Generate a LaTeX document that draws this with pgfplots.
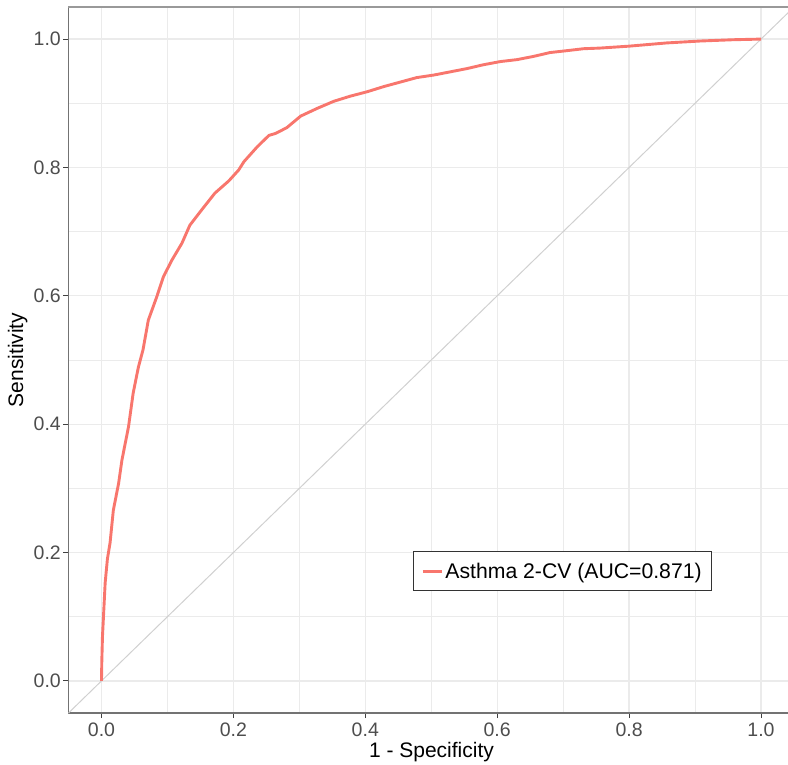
\documentclass[border=0pt]{standalone}
\usepackage{fontspec}
\setmainfont{Liberation Sans}
\usepackage{pgfplots}
\pgfplotsset{compat=1.18}
\definecolor{roc}{HTML}{F8766D}
\definecolor{gridc}{HTML}{EBEBEB}
\definecolor{diagc}{HTML}{D0D0D0}
\definecolor{ticktext}{HTML}{4D4D4D}
\definecolor{axline}{HTML}{737373}
\definecolor{topline}{HTML}{999999}
\begin{document}
\begin{tikzpicture}[x=1pt,y=1pt]
\useasboundingbox (0,0) rectangle (788,764);
\begin{axis}[
  at={(68.5pt,51pt)}, anchor=south west,
  scale only axis, width=719.5pt, height=706pt,
  xmin=-0.05, xmax=1.0409, ymin=-0.05, ymax=1.05,
  axis lines*=left,
  x axis line style={-}, y axis line style={-},
  axis line style={draw=axline, line width=1.3pt},
  xtick={0,0.2,0.4,0.6,0.8,1},
  ytick={0,0.2,0.4,0.6,0.8,1},
  xticklabels={0.0,0.2,0.4,0.6,0.8,1.0},
  yticklabels={0.0,0.2,0.4,0.6,0.8,1.0},
  minor xtick={0.1,0.3,0.5,0.7,0.9},
  minor ytick={-0.1,0.1,0.3,0.5,0.7,0.9},
  grid=both,
  major grid style={draw=gridc, line width=1.3pt},
  minor grid style={draw=gridc, line width=0.7pt},
  tick align=outside,
  major tick length=5pt,
  minor tick length=0pt,
  tick style={draw=black!75, line width=1pt},
  xticklabel style={font=\fontsize{19.5pt}{23pt}\selectfont, text=ticktext, inner sep=0pt, yshift=-5pt},
  yticklabel style={font=\fontsize{19.5pt}{23pt}\selectfont, text=ticktext, inner sep=0pt, xshift=-2.5pt},
  xlabel={1 - Specificity},
  ylabel={Sensitivity},
  xlabel style={font=\fontsize{21pt}{25pt}\selectfont, at={(axis description cs:0.5045,0)}, anchor=base, yshift=-44pt, inner sep=0pt},
  ylabel style={font=\fontsize{21pt}{25pt}\selectfont, at={(axis description cs:-0.0632,0.5)}, anchor=base, inner sep=0pt},
  legend style={at={(axis description cs:0.479,0.1728)}, anchor=south west,
    draw=black!80, line width=0.8pt, fill=white,
    font=\fontsize{21.2pt}{25pt}\selectfont,
    inner xsep=8pt, inner ysep=9pt},
  legend cell align=left,
  legend image code/.code={\draw[#1] (0pt,0pt) -- (19pt,0pt);},
  after end axis/.code={\draw[draw=topline, line width=1.3pt] (rel axis cs:0,1) -- (rel axis cs:1,1);},
]
\addplot[draw=diagc, line width=1pt, forget plot] coordinates {(-0.05,-0.05) (1.1,1.1)};
\addplot[draw=roc, line width=2.9pt, line join=round] coordinates {
(0,0) (0.0005,0.03) (0.0015,0.069) (0.004,0.12) (0.0056,0.153) (0.009,0.19)
(0.013,0.215) (0.018,0.266) (0.026,0.308) (0.031,0.344) (0.041,0.396)
(0.048,0.448) (0.056,0.489) (0.063,0.516) (0.071,0.562) (0.084,0.599)
(0.094,0.630) (0.107,0.656) (0.122,0.682) (0.134,0.710) (0.152,0.734)
(0.172,0.760) (0.193,0.779) (0.208,0.796) (0.216,0.809) (0.236,0.832)
(0.254,0.850) (0.264,0.853) (0.281,0.862) (0.302,0.880) (0.327,0.892)
(0.352,0.903) (0.377,0.911) (0.403,0.918) (0.428,0.926) (0.453,0.933)
(0.478,0.940) (0.504,0.944) (0.529,0.949) (0.554,0.954) (0.579,0.960)
(0.605,0.965) (0.630,0.968) (0.655,0.973) (0.680,0.979) (0.706,0.982)
(0.731,0.985) (0.756,0.986) (0.80,0.989) (0.857,0.994) (0.908,0.997)
(0.958,0.999) (1,1)};
\addlegendentry{Asthma 2-CV (AUC=0.871)}
\end{axis}
\end{tikzpicture}
\end{document}
